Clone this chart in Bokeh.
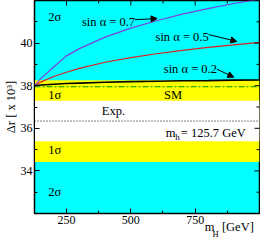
import math
from bokeh.plotting import figure
from bokeh.models import (Range1d, FixedTicker, BoxAnnotation, Arrow, LinearAxis,
                          NormalHead, ColumnDataSource)
from bokeh.core.properties import value
from bokeh.embed import file_html
from bokeh.resources import INLINE

# ---- data ----
mH = [125.7, 150, 200, 250, 300, 400, 500, 600, 700, 800, 900, 1000]
dr_sin07 = [38.00, 38.33, 38.88, 39.40, 39.74, 40.28, 40.70, 41.05, 41.36, 41.62, 41.86, 42.06]
dr_sin05 = [38.00, 38.17, 38.43, 38.63, 38.81, 39.10, 39.32, 39.50, 39.66, 39.80, 39.92, 40.03]
dr_sin02 = [38.00, 38.03, 38.07, 38.10, 38.12, 38.16, 38.19, 38.21, 38.23, 38.24, 38.26, 38.27]
sm_mH = [125.7, 1000]
sm_dr = [37.95, 37.95]
exp_dr = 36.34
exp_sigma1 = 0.95
exp_sigma2 = 1.92
x_lo, x_hi = 125.7, 1000
y_lo, y_hi = 32, 42
x_ticks = [250, 500, 750]
x_minor = [375, 625, 875]
y_ticks = [34, 36, 38, 40]
y_minor = [33, 35, 37, 39, 41]

# x-axis title pieces "m_H [GeV]" (positions along the x axis)
xtitle_main = {806: "m", 916: "[GeV]"}
xtitle_sub = {829: "H"}

FONT = "Liberation Serif"
FS = "12.5px"

p = figure(width=260, height=241, x_range=Range1d(x_lo, x_hi), y_range=Range1d(y_lo, y_hi),
           output_backend="svg", toolbar_location=None,
           min_border_left=10, min_border_top=0, min_border_right=1, min_border_bottom=10)
p.background_fill_color = "#00ffff"
p.border_fill_color = "white"
p.xgrid.grid_line_color = None
p.ygrid.grid_line_color = None
p.outline_line_color = "black"
p.outline_line_width = 1.5

# bands
p.add_layout(BoxAnnotation(bottom=exp_dr - exp_sigma2, top=exp_dr + exp_sigma2,
                           fill_color="#ffff00", fill_alpha=1, line_alpha=0, level="underlay"))
p.add_layout(BoxAnnotation(bottom=exp_dr - exp_sigma1, top=exp_dr + exp_sigma1,
                           fill_color="white", fill_alpha=1, line_alpha=0, level="underlay"))

# exp line
p.line(sm_mH, [exp_dr, exp_dr], line_color="black", line_dash="1 2", line_width=1)
# SM
p.line(sm_mH, sm_dr, line_color="#009900", line_dash="6 2 2 2", line_width=1.2)
# curves
p.line(mH, dr_sin02, line_color="black", line_width=1.6)
p.line(mH, dr_sin05, line_color="#e02020", line_width=1.2)
p.line(mH, dr_sin07, line_color="#7f3fdf", line_width=1.2)

# axes style
for ax, ticks, minor in ((p.xaxis[0], x_ticks, x_minor), (p.yaxis[0], y_ticks, y_minor)):
    ax.ticker = FixedTicker(ticks=ticks, minor_ticks=minor)
    ax.major_tick_in = 5
    ax.major_tick_out = 0
    ax.minor_tick_in = 3
    ax.minor_tick_out = 0
    ax.axis_line_color = "black"
    ax.major_tick_line_color = "black"
    ax.minor_tick_line_color = "black"
    ax.major_label_text_font = FONT
    ax.major_label_text_color = "black"
    ax.major_label_text_font_size = "12px"
    ax.major_label_standoff = 2
p.yaxis[0].axis_label = "Δr [ x 10³]"
p.yaxis[0].axis_label_text_font = FONT
p.yaxis[0].axis_label_text_font_size = FS
p.yaxis[0].axis_label_text_font_style = "normal"
p.yaxis[0].axis_label_text_color = "black"
p.yaxis[0].axis_label_standoff = 0

# x-axis title as label rows below the tick labels
def title_axis(pieces, size, standoff):
    ax = LinearAxis(ticker=FixedTicker(ticks=list(pieces.keys()), minor_ticks=[]),
                    major_label_overrides=dict(pieces))
    ax.axis_line_color = None
    ax.major_tick_line_color = None
    ax.minor_tick_line_color = None
    ax.major_tick_in = 0
    ax.major_tick_out = 0
    ax.major_label_text_font = FONT
    ax.major_label_text_font_size = size
    ax.major_label_text_color = "black"
    ax.major_label_standoff = standoff
    return ax

p.add_layout(title_axis(xtitle_main, FS, -7), "below")
p.add_layout(title_axis(xtitle_sub, "8.5px", -8), "below")

# mirrored ticks on top and right (inward)
p.scatter(x_ticks, [y_hi] * len(x_ticks), marker="dash", size=10, angle=math.pi / 2,
          line_color="black", line_width=1)
p.scatter(x_minor, [y_hi] * len(x_minor), marker="dash", size=6, angle=math.pi / 2,
          line_color="black", line_width=1)
p.scatter([x_hi] * len(y_ticks), y_ticks, marker="dash", size=10,
          line_color="black", line_width=1)
p.scatter([x_hi] * len(y_minor), y_minor, marker="dash", size=6,
          line_color="black", line_width=1)

# text labels
lab_x = [179, 179, 179, 179, 310, 596, 628, 629, 387]
lab_y = [41.24, 33.0, 37.55, 35.0, 40.97, 40.28, 38.78, 37.55, 36.79]
lab_t = ["2σ", "2σ", "1σ", "1σ", "sin α = 0.7", "sin α = 0.5", "sin α = 0.2", "SM", "Exp."]
src = ColumnDataSource(dict(x=lab_x, y=lab_y, t=lab_t))
p.text(x="x", y="y", text="t", source=src, text_font=value(FONT), text_font_size=FS,
       text_baseline="middle", text_align="left", text_color="black")

# m_h = 125.7 GeV
mh_x, mh_y = 636, 35.8
p.text(x=[mh_x], y=[mh_y], text=["m"], text_font=value(FONT), text_font_size=FS,
       text_baseline="middle", text_align="left")
p.text(x=[mh_x], y=[mh_y], text=["h"], text_font=value(FONT), text_font_size="9px",
       text_baseline="middle", text_align="left", x_offset=9.5, y_offset=4)
p.text(x=[mh_x], y=[mh_y], text=["= 125.7 GeV"], text_font=value(FONT), text_font_size=FS,
       text_baseline="middle", text_align="left", x_offset=15)

# arrows
arrows = [((516, 41.10), (602, 41.15)),
          ((802, 40.40), (912, 40.08)),
          ((834, 38.78), (900, 38.40))]
for (xs, ys), (xe, ye) in arrows:
    p.add_layout(Arrow(end=NormalHead(size=6, fill_color="black", line_color="black", line_width=1),
                       x_start=xs, y_start=ys, x_end=xe, y_end=ye, line_width=1, line_color="black"))

open("out.html", "w").write(file_html(p, INLINE))
